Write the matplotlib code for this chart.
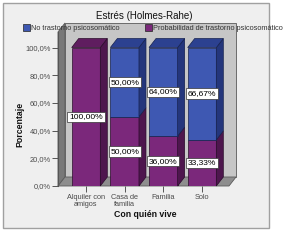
import matplotlib
matplotlib.use('Agg')
import matplotlib.pyplot as plt
from matplotlib.patches import Polygon, Rectangle

# ---- data ----
categories = ['Alquiler con\namigos', 'Casa de\nfamilia', 'Familia', 'Solo']
probabilidad = [100.0, 50.0, 36.0, 33.33]
no_trastorno = [0.0, 50.0, 64.0, 66.67]
series_names = ['No trastorno psicosomático', 'Probabilidad de trastorno psicosomático']
yticks = [0, 20, 40, 60, 80, 100]
ytick_labels = ['0,0%', '20,0%', '40,0%', '60,0%', '80,0%', '100,0%']
title = 'Estrés (Holmes-Rahe)'
xlabel = 'Con quién vive'
ylabel = 'Porcentaje'

plt.rcParams['font.family'] = ['Liberation Sans', 'DejaVu Sans']

W, H = 289, 243
fig = plt.figure(figsize=(W / 100, H / 100), dpi=100)
fig.patch.set_facecolor('white')


def fx(px):
    return px / W


def fy(py):
    return 1 - py / H


# outer panel
fig.patches.append(Rectangle((fx(3), fy(228)), (269 - 3) / W, (228 - 3) / H,
                             transform=fig.transFigure, facecolor='#efefef',
                             edgecolor='#a0a0a0', lw=1.0, zorder=-5))

ax = fig.add_axes([fx(58), fy(186), (236 - 58) / W, (186 - 23) / H])
ax.set_zorder(1)
x0, x1 = -0.724, 3.879
ytop = 117.7
ax.set_xlim(x0, x1)
ax.set_ylim(0, ytop)
ax.patch.set_visible(False)
for s in ['top', 'right', 'bottom']:
    ax.spines[s].set_visible(False)
ax.spines['left'].set_bounds(0, ytop - 6.5)
ax.spines['left'].set_color('#555555')
ax.spines['left'].set_linewidth(0.8)

dx, dy = 0.181, 6.5
wall_edge = '#5a5a5a'
# back wall
ax.add_patch(Polygon([(x0 + dx, dy), (x1, dy), (x1, ytop), (x0 + dx, ytop)], closed=True,
                     facecolor='#c6c6c6', edgecolor=wall_edge, lw=0.6, zorder=1, clip_on=False))
# left wall
ax.add_patch(Polygon([(x0, 0), (x0 + dx, dy), (x0 + dx, ytop), (x0, ytop - dy)], closed=True,
                     facecolor='#787878', edgecolor=wall_edge, lw=0.6, zorder=1, clip_on=False))
# floor
ax.add_patch(Polygon([(x0, 0), (x1 - dx, 0), (x1, dy), (x0 + dx, dy)], closed=True,
                     facecolor='#8e8e8e', edgecolor=wall_edge, lw=0.6, zorder=1, clip_on=False))

colors = {
    'purple': ('#7b287b', '#4e164e', '#5f1d5f', '#2a0c2a'),
    'blue': ('#3e58b2', '#24367c', '#2c4190', '#16224f'),
}
bw = 0.74
xs = list(range(len(categories)))

for i, x in enumerate(xs):
    segs = [(0, probabilidad[i], 'purple'), (probabilidad[i], probabilidad[i] + no_trastorno[i], 'blue')]
    segs = [s for s in segs if s[1] - s[0] > 0]
    for k, (b, t, c) in enumerate(segs):
        front, side, topc, edge = colors[c]
        ax.bar(x, t - b, bottom=b, width=bw, color=front, edgecolor=edge, lw=0.5, zorder=3)
        xr = x + bw / 2
        ax.add_patch(Polygon([(xr, b), (xr + dx, b + dy), (xr + dx, t + dy), (xr, t)], closed=True,
                             facecolor=side, edgecolor=edge, lw=0.5, zorder=3, clip_on=False))
        if k == len(segs) - 1:
            xl = x - bw / 2
            ax.add_patch(Polygon([(xl, t), (xl + dx, t + dy), (xr + dx, t + dy), (xr, t)], closed=True,
                                 facecolor=topc, edgecolor=edge, lw=0.5, zorder=3, clip_on=False))
        v = t - b
        ax.text(x, (b + t) / 2, ('%.2f%%' % v).replace('.', ','), ha='center', va='center',
                fontsize=6.1, color='black', zorder=5,
                bbox=dict(boxstyle='square,pad=0.2', facecolor='white', edgecolor='#333333', lw=0.5))

ax.set_yticks(yticks)
ax.set_yticklabels(ytick_labels)
ax.set_xticks(xs)
ax.set_xticklabels(categories, linespacing=0.95)
ax.tick_params(axis='y', direction='out', length=4, width=0.7, color='#555555',
               labelsize=5.4, labelcolor='#4a4a4a', pad=1)
ax.tick_params(axis='x', direction='out', length=4, width=0.7, color='#555555',
               labelsize=5.3, labelcolor='#4a4a4a', pad=2)

fig.text(fx(144), fy(16), title, ha='center', va='center', fontsize=7, color='#111111')
# legend
legend_items = [(series_names[0], colors['blue'][0], 23), (series_names[1], colors['purple'][0], 145)]
for name, col, px in legend_items:
    fig.patches.append(Rectangle((fx(px), fy(31.5)), 7 / W, 7 / H, transform=fig.transFigure,
                                 facecolor=col, edgecolor='#222222', lw=0.5, zorder=6))
    fig.text(fx(px + 8), fy(28.5), name, ha='left', va='center', fontsize=5.3, color='#333333', zorder=6)

fig.text(fx(20), fy(124), ylabel, rotation=90, ha='center', va='center', fontsize=6.3,
         fontweight='bold', color='#111111')
fig.text(fx(145), fy(214), xlabel, ha='center', va='center', fontsize=6.3,
         fontweight='bold', color='#111111')

fig.savefig('out.png', dpi=100)
